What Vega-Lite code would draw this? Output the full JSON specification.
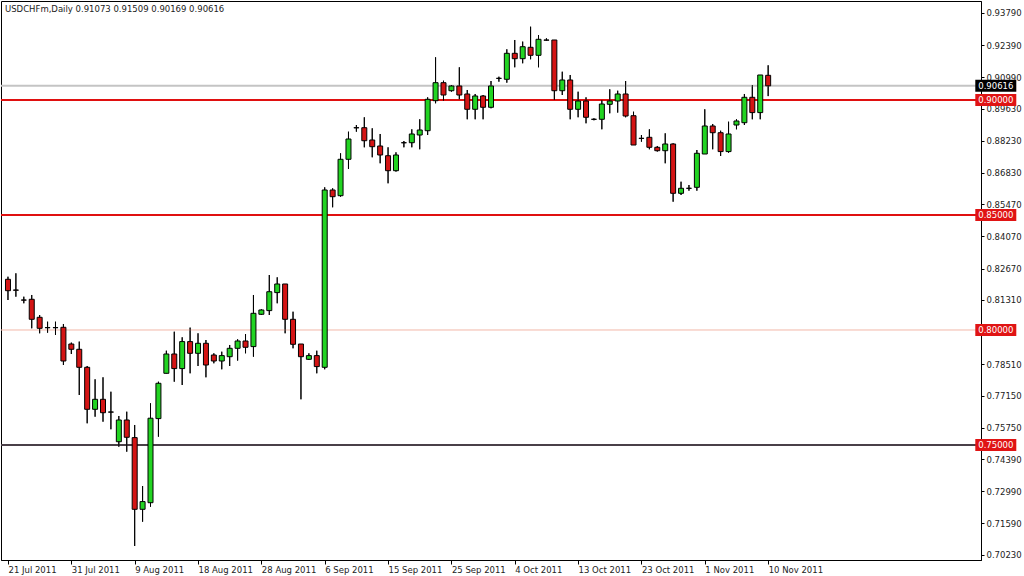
{
  "$schema": "https://vega.github.io/schema/vega-lite/v6.json",
  "autosize": {"type": "none"},
  "padding": {"left": 1, "top": 1, "right": 43, "bottom": 16},
  "width": 980,
  "height": 559,
  "background": "#ffffff",
  "config": {
    "view": {"stroke": "#000000", "strokeWidth": 1},
    "font": "DejaVu Sans",
    "axis": {"labelOverlap": false, "labelFlush": false}
  },
  "title": {
    "text": "USDCHFm,Daily  0.91073 0.91509 0.90169 0.90616",
    "anchor": "start", "frame": "group", "orient": "top", "baseline": "top",
    "offset": -12, "dx": 4, "font": "DejaVu Sans", "fontSize": 8.5, "fontWeight": "normal", "color": "#222222"
  },
  "datasets": {
    "candles": [
      {"i":0,"date":"2011-07-21","open":0.82204,"high":0.82317,"low":0.81304,"close":0.81709},
      {"i":1,"date":"2011-07-22","open":0.81739,"high":0.82465,"low":0.81448,"close":0.81730},
      {"i":2,"date":"2011-07-24","open":0.81304,"high":0.81448,"low":0.81161,"close":0.81300},
      {"i":3,"date":"2011-07-25","open":0.81335,"high":0.81522,"low":0.80074,"close":0.80465},
      {"i":4,"date":"2011-07-26","open":0.80552,"high":0.80652,"low":0.79857,"close":0.80074},
      {"i":5,"date":"2011-07-27","open":0.80104,"high":0.80361,"low":0.79883,"close":0.80100},
      {"i":6,"date":"2011-07-28","open":0.80104,"high":0.80361,"low":0.79783,"close":0.80100},
      {"i":7,"date":"2011-07-29","open":0.80117,"high":0.80261,"low":0.78478,"close":0.78652},
      {"i":8,"date":"2011-07-31","open":0.79391,"high":0.79452,"low":0.78957,"close":0.79161},
      {"i":9,"date":"2011-08-01","open":0.79161,"high":0.79496,"low":0.77174,"close":0.78378},
      {"i":10,"date":"2011-08-02","open":0.78378,"high":0.78435,"low":0.75943,"close":0.76552},
      {"i":11,"date":"2011-08-03","open":0.76552,"high":0.77857,"low":0.76230,"close":0.76987},
      {"i":12,"date":"2011-08-04","open":0.76987,"high":0.77943,"low":0.76013,"close":0.76404},
      {"i":13,"date":"2011-08-05","open":0.76435,"high":0.77317,"low":0.75683,"close":0.76430},
      {"i":14,"date":"2011-08-07","open":0.75143,"high":0.76261,"low":0.74926,"close":0.76087},
      {"i":15,"date":"2011-08-08","open":0.76087,"high":0.76448,"low":0.74709,"close":0.75335},
      {"i":16,"date":"2011-08-09","open":0.75322,"high":0.75870,"low":0.70609,"close":0.72204},
      {"i":17,"date":"2011-08-10","open":0.72204,"high":0.73217,"low":0.71665,"close":0.72539},
      {"i":18,"date":"2011-08-11","open":0.72491,"high":0.76813,"low":0.72317,"close":0.76165},
      {"i":19,"date":"2011-08-12","open":0.76148,"high":0.77752,"low":0.75361,"close":0.77683},
      {"i":20,"date":"2011-08-14","open":0.78117,"high":0.79100,"low":0.78117,"close":0.78957},
      {"i":21,"date":"2011-08-15","open":0.78957,"high":0.79926,"low":0.77752,"close":0.78322},
      {"i":22,"date":"2011-08-16","open":0.78322,"high":0.79683,"low":0.77609,"close":0.79496},
      {"i":23,"date":"2011-08-17","open":0.79496,"high":0.80104,"low":0.78117,"close":0.78987},
      {"i":24,"date":"2011-08-18","open":0.78987,"high":0.79857,"low":0.78435,"close":0.79422},
      {"i":25,"date":"2011-08-19","open":0.79422,"high":0.79565,"low":0.77943,"close":0.78478},
      {"i":26,"date":"2011-08-21","open":0.78913,"high":0.78987,"low":0.78552,"close":0.78652},
      {"i":27,"date":"2011-08-22","open":0.78652,"high":0.79057,"low":0.78291,"close":0.78887},
      {"i":28,"date":"2011-08-23","open":0.78839,"high":0.79348,"low":0.78435,"close":0.79204},
      {"i":29,"date":"2011-08-24","open":0.79204,"high":0.79596,"low":0.78670,"close":0.79522},
      {"i":30,"date":"2011-08-25","open":0.79522,"high":0.79826,"low":0.78987,"close":0.79248},
      {"i":31,"date":"2011-08-26","open":0.79278,"high":0.81522,"low":0.78839,"close":0.80726},
      {"i":32,"date":"2011-08-28","open":0.80683,"high":0.80900,"low":0.80652,"close":0.80870},
      {"i":33,"date":"2011-08-29","open":0.80843,"high":0.82391,"low":0.80652,"close":0.81665},
      {"i":34,"date":"2011-08-30","open":0.81626,"high":0.82291,"low":0.81161,"close":0.82000},
      {"i":35,"date":"2011-08-31","open":0.82000,"high":0.82000,"low":0.79857,"close":0.80465},
      {"i":36,"date":"2011-09-01","open":0.80465,"high":0.80796,"low":0.79204,"close":0.79378},
      {"i":37,"date":"2011-09-02","open":0.79391,"high":0.79391,"low":0.76987,"close":0.78839},
      {"i":38,"date":"2011-09-04","open":0.78726,"high":0.78987,"low":0.78696,"close":0.78887},
      {"i":39,"date":"2011-09-05","open":0.78887,"high":0.79100,"low":0.78117,"close":0.78409},
      {"i":40,"date":"2011-09-06","open":0.78378,"high":0.86204,"low":0.78291,"close":0.86087},
      {"i":41,"date":"2011-09-07","open":0.86087,"high":0.86161,"low":0.85335,"close":0.85796},
      {"i":42,"date":"2011-09-08","open":0.85839,"high":0.87683,"low":0.85796,"close":0.87422},
      {"i":43,"date":"2011-09-09","open":0.87422,"high":0.88622,"low":0.87000,"close":0.88304},
      {"i":44,"date":"2011-09-11","open":0.88796,"high":0.88913,"low":0.88622,"close":0.88790},
      {"i":45,"date":"2011-09-12","open":0.88796,"high":0.89248,"low":0.87943,"close":0.88230},
      {"i":46,"date":"2011-09-13","open":0.88261,"high":0.88770,"low":0.87509,"close":0.87970},
      {"i":47,"date":"2011-09-14","open":0.88000,"high":0.88522,"low":0.87248,"close":0.87609},
      {"i":48,"date":"2011-09-15","open":0.87578,"high":0.87943,"low":0.86378,"close":0.86926},
      {"i":49,"date":"2011-09-16","open":0.86926,"high":0.87726,"low":0.86887,"close":0.87609},
      {"i":50,"date":"2011-09-18","open":0.88143,"high":0.88217,"low":0.87943,"close":0.88140},
      {"i":51,"date":"2011-09-19","open":0.88143,"high":0.88726,"low":0.87943,"close":0.88522},
      {"i":52,"date":"2011-09-20","open":0.88478,"high":0.89161,"low":0.87857,"close":0.88696},
      {"i":53,"date":"2011-09-21","open":0.88665,"high":0.90117,"low":0.88478,"close":0.90030},
      {"i":54,"date":"2011-09-22","open":0.89970,"high":0.91857,"low":0.89857,"close":0.90752},
      {"i":55,"date":"2011-09-23","open":0.90752,"high":0.90839,"low":0.89970,"close":0.90217},
      {"i":56,"date":"2011-09-25","open":0.90404,"high":0.90652,"low":0.90361,"close":0.90609},
      {"i":57,"date":"2011-09-26","open":0.90609,"high":0.91422,"low":0.90030,"close":0.90217},
      {"i":58,"date":"2011-09-27","open":0.90261,"high":0.90435,"low":0.89161,"close":0.89596},
      {"i":59,"date":"2011-09-28","open":0.89596,"high":0.90261,"low":0.89161,"close":0.90174},
      {"i":60,"date":"2011-09-29","open":0.90174,"high":0.90217,"low":0.89161,"close":0.89683},
      {"i":61,"date":"2011-09-30","open":0.89683,"high":0.90826,"low":0.89639,"close":0.90609},
      {"i":62,"date":"2011-10-02","open":0.90943,"high":0.91013,"low":0.90796,"close":0.90940},
      {"i":63,"date":"2011-10-03","open":0.90900,"high":0.92204,"low":0.90752,"close":0.92030},
      {"i":64,"date":"2011-10-04","open":0.92030,"high":0.92609,"low":0.91422,"close":0.91796},
      {"i":65,"date":"2011-10-05","open":0.91796,"high":0.92539,"low":0.91596,"close":0.92317},
      {"i":66,"date":"2011-10-06","open":0.92291,"high":0.93187,"low":0.91770,"close":0.91943},
      {"i":67,"date":"2011-10-07","open":0.91943,"high":0.92826,"low":0.91422,"close":0.92639},
      {"i":68,"date":"2011-10-09","open":0.92609,"high":0.92683,"low":0.92583,"close":0.92600},
      {"i":69,"date":"2011-10-10","open":0.92609,"high":0.92609,"low":0.90000,"close":0.90404},
      {"i":70,"date":"2011-10-11","open":0.90404,"high":0.91230,"low":0.90217,"close":0.90870},
      {"i":71,"date":"2011-10-12","open":0.90870,"high":0.91087,"low":0.89161,"close":0.89596},
      {"i":72,"date":"2011-10-13","open":0.89596,"high":0.90361,"low":0.89248,"close":0.89957},
      {"i":73,"date":"2011-10-14","open":0.89957,"high":0.90117,"low":0.88987,"close":0.89248},
      {"i":74,"date":"2011-10-16","open":0.89161,"high":0.89204,"low":0.89117,"close":0.89160},
      {"i":75,"date":"2011-10-17","open":0.89161,"high":0.90000,"low":0.88726,"close":0.89826},
      {"i":76,"date":"2011-10-18","open":0.89813,"high":0.90465,"low":0.89422,"close":0.89957},
      {"i":77,"date":"2011-10-19","open":0.89957,"high":0.90404,"low":0.89452,"close":0.90261},
      {"i":78,"date":"2011-10-20","open":0.90261,"high":0.90826,"low":0.89248,"close":0.89304},
      {"i":79,"date":"2011-10-21","open":0.89317,"high":0.89491,"low":0.88043,"close":0.88043},
      {"i":80,"date":"2011-10-23","open":0.88335,"high":0.88478,"low":0.88187,"close":0.88330},
      {"i":81,"date":"2011-10-24","open":0.88378,"high":0.88726,"low":0.87857,"close":0.87943},
      {"i":82,"date":"2011-10-25","open":0.87943,"high":0.88000,"low":0.87757,"close":0.87796},
      {"i":83,"date":"2011-10-26","open":0.87796,"high":0.88552,"low":0.87248,"close":0.88087},
      {"i":84,"date":"2011-10-27","open":0.88087,"high":0.88117,"low":0.85578,"close":0.85943},
      {"i":85,"date":"2011-10-28","open":0.85943,"high":0.86448,"low":0.85870,"close":0.86161},
      {"i":86,"date":"2011-10-30","open":0.86161,"high":0.86304,"low":0.86057,"close":0.86160},
      {"i":87,"date":"2011-10-31","open":0.86204,"high":0.87826,"low":0.86057,"close":0.87683},
      {"i":88,"date":"2011-11-01","open":0.87652,"high":0.89596,"low":0.87652,"close":0.88870},
      {"i":89,"date":"2011-11-02","open":0.88870,"high":0.88957,"low":0.87857,"close":0.88578},
      {"i":90,"date":"2011-11-03","open":0.88578,"high":0.88665,"low":0.87565,"close":0.87757},
      {"i":91,"date":"2011-11-04","open":0.87757,"high":0.89057,"low":0.87709,"close":0.88522},
      {"i":92,"date":"2011-11-06","open":0.88913,"high":0.89161,"low":0.88726,"close":0.89087},
      {"i":93,"date":"2011-11-07","open":0.89013,"high":0.90261,"low":0.88913,"close":0.90117},
      {"i":94,"date":"2011-11-08","open":0.90117,"high":0.90652,"low":0.89161,"close":0.89452},
      {"i":95,"date":"2011-11-09","open":0.89452,"high":0.91087,"low":0.89161,"close":0.91087},
      {"i":96,"date":"2011-11-10","open":0.91073,"high":0.91509,"low":0.90169,"close":0.90616}
    ],
    "levels": [
      {"price": 0.90, "kind": "major"},
      {"price": 0.85, "kind": "major"},
      {"price": 0.80, "kind": "minor"},
      {"price": 0.75, "kind": "dark"},
      {"price": 0.90616, "kind": "bid"}
    ]
  },
  "layer": [
    {
      "data": {"name": "candles"},
      "mark": {"type": "rule", "color": "#000000", "strokeWidth": 1},
      "encoding": {
        "x": {"field": "i", "type": "quantitative", "scale": {"domain": [-0.25, 122.25], "nice": false, "zero": false},
          "axis": {"title": null, "values": [0, 8, 16, 24, 32, 40, 48, 56, 64, 72, 80, 88, 96], "tickCount": 30, "labelExpr": "['21 Jul 2011','31 Jul 2011','9 Aug 2011','18 Aug 2011','28 Aug 2011','6 Sep 2011','15 Sep 2011','25 Sep 2011','4 Oct 2011','13 Oct 2011','23 Oct 2011','1 Nov 2011','10 Nov 2011'][round(datum.value/8)]", "labelAlign": "left", "labelBaseline": "top", "labelPadding": 1, "labelFont": "DejaVu Sans", "labelFontSize": 8.5, "labelColor": "#222222", "labelFlush": false, "labelOverlap": false, "tickSize": 4, "tickColor": "#000000", "domainColor": "#000000", "grid": false}},
        "y": {"field": "low", "type": "quantitative", "scale": {"domain": [0.7, 0.943043], "nice": false, "zero": false},
          "axis": {"orient": "right", "title": null, "values": [0.9379, 0.9239, 0.9099, 0.8963, 0.8823, 0.8683, 0.8547, 0.8407, 0.8267, 0.8131, 0.7851, 0.7715, 0.7575, 0.7439, 0.7299, 0.7159, 0.7023], "tickCount": 40, "format": ".5f", "labelFont": "DejaVu Sans", "labelFontSize": 8.5, "labelColor": "#222222", "labelPadding": 2, "labelOverlap": false, "labelFlush": false, "tickSize": 3, "tickColor": "#000000", "domainColor": "#000000", "grid": false}},
        "y2": {"field": "high"}
      }
    },
    {
      "data": {"name": "levels"},
      "transform": [{"filter": "datum.kind === 'minor'"}],
      "mark": {"type": "rule", "color": "#f2b8a8", "strokeWidth": 1},
      "encoding": {"y": {"field": "price", "type": "quantitative"}}
    },
    {
      "data": {"name": "levels"},
      "transform": [{"filter": "datum.kind === 'bid'"}],
      "mark": {"type": "rule", "color": "#c4c4c4", "strokeWidth": 2},
      "encoding": {"y": {"field": "price", "type": "quantitative"}}
    },
    {
      "data": {"name": "levels"},
      "transform": [{"filter": "datum.kind === 'major'"}],
      "mark": {"type": "rule", "color": "#e01010", "strokeWidth": 2},
      "encoding": {"y": {"field": "price", "type": "quantitative"}}
    },
    {
      "data": {"name": "levels"},
      "transform": [{"filter": "datum.kind === 'dark'"}],
      "mark": {"type": "rule", "color": "#4a4048", "strokeWidth": 2},
      "encoding": {"y": {"field": "price", "type": "quantitative"}}
    },
    {
      "data": {"name": "candles"},
      "mark": {"type": "rule", "color": "#000000", "strokeWidth": 1},
      "encoding": {
        "x": {"field": "i", "type": "quantitative"},
        "y": {"field": "low", "type": "quantitative"},
        "y2": {"field": "high"}
      }
    },
    {
      "data": {"name": "candles"},
      "mark": {"type": "bar", "width": 5, "stroke": "#000000", "strokeWidth": 1},
      "encoding": {
        "x": {"field": "i", "type": "quantitative"},
        "y": {"field": "open", "type": "quantitative"},
        "y2": {"field": "close"},
        "color": {
          "condition": {"test": "datum.close > datum.open", "value": "#22d422"},
          "value": "#d41414"
        }
      }
    },
    {
      "data": {"name": "levels"},
      "transform": [{"filter": "datum.kind !== 'bid'"}],
      "mark": {"type": "tick", "orient": "horizontal", "size": 41, "thickness": 12, "color": "#e01414", "opacity": 1, "clip": false},
      "encoding": {
        "x": {"datum": 124.75, "type": "quantitative"},
        "y": {"field": "price", "type": "quantitative"}
      }
    },
    {
      "data": {"name": "levels"},
      "transform": [{"filter": "datum.kind === 'bid'"}],
      "mark": {"type": "tick", "orient": "horizontal", "size": 41, "thickness": 12, "color": "#000000", "opacity": 1, "clip": false},
      "encoding": {
        "x": {"datum": 124.75, "type": "quantitative"},
        "y": {"field": "price", "type": "quantitative"}
      }
    },
    {
      "data": {"name": "levels"},
      "mark": {"type": "text", "color": "#ffffff", "font": "DejaVu Sans", "fontSize": 8.5, "align": "center", "baseline": "middle", "clip": false},
      "encoding": {
        "x": {"datum": 124.75, "type": "quantitative"},
        "y": {"field": "price", "type": "quantitative"},
        "text": {"field": "price", "format": ".5f"}
      }
    }
  ]
}
